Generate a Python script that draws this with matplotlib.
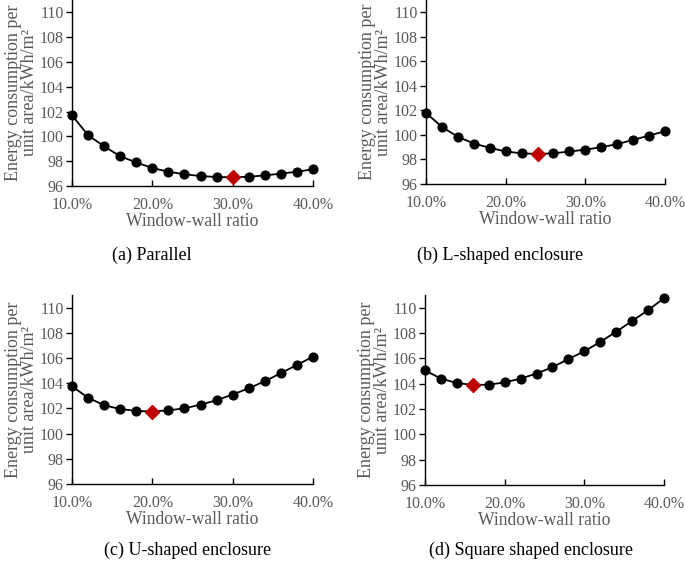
import numpy as np
import matplotlib.pyplot as plt
from matplotlib.ticker import PercentFormatter

plt.rcParams['font.family'] = ['Liberation Serif', 'DejaVu Serif']

# window-wall ratio 10% .. 40% in 2% steps
ratio = [0.10, 0.12, 0.14, 0.16, 0.18, 0.20, 0.22, 0.24,
         0.26, 0.28, 0.30, 0.32, 0.34, 0.36, 0.38, 0.40]

parallel = [101.7, 100.1, 99.2, 98.4, 97.9, 97.45, 97.15, 96.95,
            96.8, 96.73, 96.7, 96.75, 96.85, 97.0, 97.15, 97.35]
l_shaped = [101.8, 100.65, 99.85, 99.3, 98.95, 98.65, 98.5, 98.45,
            98.5, 98.65, 98.8, 99.0, 99.25, 99.6, 99.95, 100.3]
u_shaped = [103.75, 102.85, 102.25, 101.95, 101.8, 101.75, 101.85, 102.0,
            102.3, 102.65, 103.1, 103.6, 104.15, 104.8, 105.45, 106.1]
square = [105.05, 104.4, 104.05, 103.9, 103.92, 104.1, 104.4, 104.8,
          105.3, 105.95, 106.55, 107.3, 108.1, 108.95, 109.8, 110.75]

captions = ['(a) Parallel', '(b) L-shaped enclosure',
            '(c) U-shaped enclosure', '(d) Square shaped enclosure']
series = [parallel, l_shaped, u_shaped, square]

W, H = 685, 561
# axes boxes in pixels: left, top, right, bottom
boxes = [(72, 0, 313, 186), (426, 0, 665, 184),
         (72, 295, 313, 484), (425, 295, 664, 485)]
cap_pos = [(152, 255), (500, 255), (188, 550), (531, 550)]

grey = '#595959'
fig = plt.figure(figsize=(W / 100, H / 100), dpi=100)

for i in range(4):
    l, t, r, b = boxes[i]
    ax = fig.add_axes([l / W, 1 - b / H, (r - l) / W, (b - t) / H])
    y = series[i]
    ax.plot(ratio, y, color='black', lw=1.3, marker='o', ms=6.3,
            clip_on=False, zorder=3)
    k = int(np.argmin(y))
    ax.plot(ratio[k], y[k], marker='D', color='#C00000', ms=7.5,
            ls='none', clip_on=False, zorder=4)
    ax.set_xlim(0.10, 0.40)
    ax.set_ylim(96, 111)
    ax.set_xticks([0.10, 0.20, 0.30, 0.40])
    ax.set_yticks(range(96, 111, 2))
    ax.xaxis.set_major_formatter(PercentFormatter(1.0, decimals=1))
    ax.spines['top'].set_visible(False)
    ax.spines['right'].set_visible(False)
    for s in ['left', 'bottom']:
        ax.spines[s].set_color('black')
        ax.spines[s].set_linewidth(1.0)
    ax.tick_params(axis='x', direction='in', length=4, width=1.0,
                   colors='black', labelcolor=grey, labelsize=11.5, pad=8)
    ax.tick_params(axis='y', direction='out', length=4, width=1.0,
                   colors='black', labelcolor=grey, labelsize=11.5, pad=2)
    ax.set_xlabel('Window-wall ratio', color=grey, fontsize=12.7, labelpad=0)
    ax.set_ylabel('Energy consumption per\nunit area/kWh/m²', color=grey,
                  fontsize=13, labelpad=1, linespacing=0.95)
    fig.text(cap_pos[i][0] / W, 1 - cap_pos[i][1] / H, captions[i],
             ha='center', va='center', fontsize=13, color='black')

fig.savefig('out.png', dpi=100)
